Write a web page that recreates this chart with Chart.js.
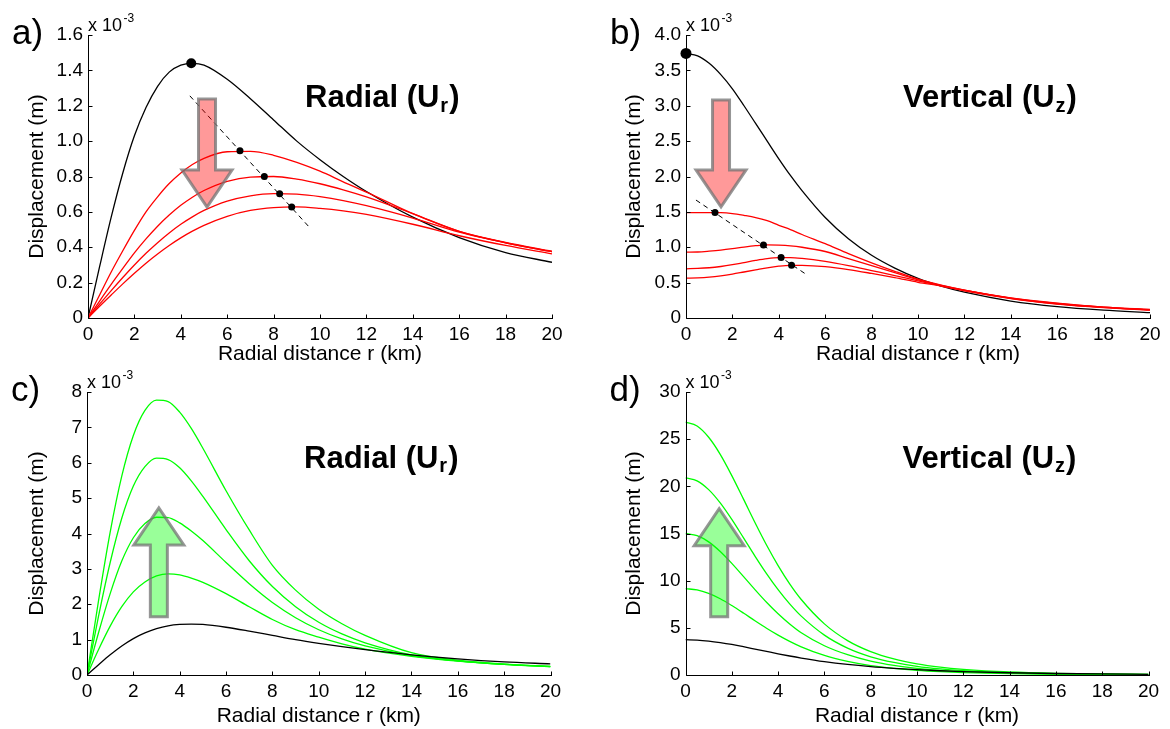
<!DOCTYPE html>
<html>
<head>
<meta charset="utf-8">
<script src="https://cdn.jsdelivr.net/npm/chart.js@4.4.1/dist/chart.umd.min.js"></script>
<style>
  html, body { margin: 0; padding: 0; background: #fff; }
  body { width: 1170px; height: 729px; position: relative; overflow: hidden; }
  canvas { position: absolute; }
</style>
</head>
<body>
<canvas id="panelA" style="left:0;top:0" width="585" height="370"></canvas>
<canvas id="panelB" style="left:590px;top:0" width="580" height="370"></canvas>
<canvas id="panelC" style="left:0;top:360px" width="585" height="370"></canvas>
<canvas id="panelD" style="left:590px;top:360px" width="580" height="370"></canvas>
<script>
// sample positions (km) shared by every curve
const radialKm = [0, 0.5, 1, 1.5, 2, 2.5, 3, 3.5, 4, 4.5, 5, 6, 7, 8, 9, 10, 11, 12, 14, 16, 18, 20];

// displacement values in units of 1e-3 m
// a) radial, reference + decreasing cases
const radialRef = [0, 0.29, 0.57, 0.82, 1.03, 1.19, 1.31, 1.39, 1.43, 1.44, 1.43, 1.35, 1.24, 1.12, 1.0, 0.895, 0.80, 0.715, 0.57, 0.455, 0.37, 0.315];
const radialLow1 = [0, 0.13, 0.26, 0.38, 0.495, 0.60, 0.685, 0.76, 0.82, 0.868, 0.903, 0.94, 0.942, 0.92, 0.88, 0.83, 0.77, 0.712, 0.59, 0.49, 0.425, 0.375];
const radialLow2 = [0, 0.096, 0.19, 0.28, 0.368, 0.447, 0.519, 0.582, 0.637, 0.683, 0.721, 0.773, 0.797, 0.80, 0.785, 0.759, 0.725, 0.685, 0.59, 0.49, 0.428, 0.378];
const radialLow3 = [0, 0.078, 0.155, 0.229, 0.30, 0.366, 0.426, 0.481, 0.53, 0.572, 0.608, 0.661, 0.691, 0.703, 0.70, 0.686, 0.664, 0.635, 0.565, 0.485, 0.425, 0.375];
const radialLow4 = [0, 0.066, 0.13, 0.193, 0.253, 0.31, 0.362, 0.41, 0.453, 0.491, 0.524, 0.575, 0.608, 0.624, 0.628, 0.62, 0.606, 0.586, 0.53, 0.465, 0.41, 0.362];
const radialPeakKm = [6.55, 7.6, 8.26, 8.78];
const radialPeakVal = [0.945, 0.80, 0.703, 0.628];
const radialGuideKm = [4.39, 9.5];
const radialGuideVal = [1.256, 0.519];

// b) vertical, reference + decreasing cases
const verticalRef = [3.74, 3.705, 3.60, 3.44, 3.24, 3.0, 2.75, 2.5, 2.25, 2.015, 1.80, 1.42, 1.12, 0.886, 0.705, 0.56, 0.45, 0.365, 0.24, 0.16, 0.11, 0.075];
const verticalLow1 = [1.49, 1.49, 1.49, 1.488, 1.475, 1.45, 1.42, 1.375, 1.31, 1.25, 1.18, 1.05, 0.91, 0.78, 0.66, 0.55, 0.465, 0.395, 0.285, 0.21, 0.155, 0.12];
const verticalLow2 = [0.93, 0.933, 0.945, 0.96, 0.98, 1.003, 1.022, 1.033, 1.03, 1.02, 1.0, 0.94, 0.84, 0.74, 0.64, 0.54, 0.46, 0.393, 0.282, 0.205, 0.152, 0.118];
const verticalLow3 = [0.695, 0.70, 0.71, 0.728, 0.753, 0.783, 0.813, 0.838, 0.852, 0.853, 0.842, 0.80, 0.74, 0.67, 0.60, 0.525, 0.455, 0.39, 0.278, 0.2, 0.15, 0.115];
const verticalLow4 = [0.563, 0.567, 0.577, 0.595, 0.62, 0.65, 0.68, 0.71, 0.733, 0.745, 0.744, 0.725, 0.685, 0.63, 0.57, 0.505, 0.45, 0.385, 0.275, 0.198, 0.148, 0.112];
const verticalPeakKm = [1.25, 3.34, 4.1, 4.55];
const verticalPeakVal = [1.49, 1.033, 0.854, 0.746];
const verticalGuideKm = [0.43, 5.21];
const verticalGuideVal = [1.667, 0.61];

// c) radial, increasing cases
const radialHigh1 = [0, 0.72, 1.38, 1.93, 2.35, 2.63, 2.80, 2.86, 2.83, 2.74, 2.62, 2.30, 1.93, 1.57, 1.28, 1.07, 0.88, 0.73, 0.53, 0.39, 0.30, 0.235];
const radialHigh2 = [0, 1.20, 2.30, 3.22, 3.88, 4.28, 4.46, 4.45, 4.30, 4.07, 3.80, 3.18, 2.58, 2.05, 1.62, 1.28, 1.02, 0.82, 0.55, 0.40, 0.30, 0.235];
const radialHigh3 = [0, 1.67, 3.18, 4.43, 5.34, 5.89, 6.13, 6.09, 5.86, 5.49, 5.05, 4.11, 3.23, 2.50, 1.93, 1.49, 1.16, 0.91, 0.57, 0.40, 0.30, 0.24];
const radialHigh4 = [0, 2.11, 4.04, 5.62, 6.77, 7.48, 7.77, 7.73, 7.43, 6.97, 6.41, 5.21, 4.10, 3.10, 2.40, 1.86, 1.45, 1.12, 0.63, 0.42, 0.31, 0.245];

// d) vertical, increasing cases
const verticalHigh1 = [9.15, 9.02, 8.65, 8.08, 7.36, 6.57, 5.75, 4.96, 4.23, 3.57, 2.99, 2.07, 1.44, 1.0, 0.71, 0.5, 0.36, 0.26, 0.14, 0.08, 0.05, 0.03];
const verticalHigh2 = [15.0, 14.77, 14.11, 13.09, 11.83, 10.45, 9.05, 7.71, 6.49, 5.41, 4.48, 3.10, 2.15, 1.47, 1.02, 0.71, 0.5, 0.36, 0.19, 0.11, 0.065, 0.04];
const verticalHigh3 = [20.9, 20.58, 19.65, 18.24, 16.49, 14.56, 12.61, 10.75, 9.05, 7.54, 6.24, 4.23, 2.85, 1.93, 1.33, 0.92, 0.65, 0.47, 0.25, 0.14, 0.085, 0.053];
const verticalHigh4 = [26.8, 26.39, 25.2, 23.39, 21.14, 18.67, 16.17, 13.78, 11.6, 9.66, 8.0, 5.42, 3.65, 2.48, 1.70, 1.18, 0.83, 0.60, 0.32, 0.18, 0.11, 0.07];

// ticks
const xTickValues = [0, 2, 4, 6, 8, 10, 12, 14, 16, 18, 20];
const xTickLabels = ['0', '2', '4', '6', '8', '10', '12', '14', '16', '18', '20'];
const yTicksA = [0, 0.2, 0.4, 0.6, 0.8, 1.0, 1.2, 1.4, 1.6];
const yTickLabelsA = ['0', '0.2', '0.4', '0.6', '0.8', '1.0', '1.2', '1.4', '1.6'];
const yTicksB = [0, 0.5, 1.0, 1.5, 2.0, 2.5, 3.0, 3.5, 4.0];
const yTickLabelsB = ['0', '0.5', '1.0', '1.5', '2.0', '2.5', '3.0', '3.5', '4.0'];
const yTicksC = [0, 1, 2, 3, 4, 5, 6, 7, 8];
const yTickLabelsC = ['0', '1', '2', '3', '4', '5', '6', '7', '8'];
const yTicksD = [0, 5, 10, 15, 20, 25, 30];
const yTickLabelsD = ['0', '5', '10', '15', '20', '25', '30'];

const FONT = '"Liberation Sans", Arial, Helvetica, sans-serif';
const RED = '#ff0000', GREEN = '#00ff00', BLACK = '#000000';

Chart.defaults.font.family = FONT;
Chart.defaults.color = '#000';

function arrowPath(ctx, cx, yTail, yTip) {
    const dir = yTip > yTail ? 1 : -1;
    const shaft = 8.5, head = 25, headLen = 37;
    const yBase = yTip - dir * headLen;
    ctx.beginPath();
    ctx.moveTo(cx - shaft, yTail);
    ctx.lineTo(cx + shaft, yTail);
    ctx.lineTo(cx + shaft, yBase);
    ctx.lineTo(cx + head, yBase);
    ctx.lineTo(cx, yTip);
    ctx.lineTo(cx - head, yBase);
    ctx.lineTo(cx - shaft, yBase);
    ctx.closePath();
}

const panelDecor = {
    id: 'panelDecor',
    afterDatasetsDraw(chart, args, o) {
        if (!o.arrow) return;
        const {ctx, scales: {x, y}} = chart;
        const a = o.arrow;
        ctx.save();
        arrowPath(ctx, x.getPixelForValue(a.km), y.getPixelForValue(a.from), y.getPixelForValue(a.to));
        ctx.fillStyle = a.fill;
        ctx.fill();
        ctx.lineWidth = 3;
        ctx.lineJoin = 'miter';
        ctx.strokeStyle = 'rgba(115,115,115,0.75)';
        ctx.stroke();
        ctx.restore();
    },
    afterDraw(chart, args, o) {
        const {ctx, chartArea: area, scales: {x, y}} = chart;
        ctx.save();
        // axes with inward ticks
        ctx.strokeStyle = '#000';
        ctx.lineWidth = 1;
        ctx.beginPath();
        const L = Math.round(area.left) + 0.5, B = Math.round(area.bottom) + 0.5;
        ctx.moveTo(L, Math.round(area.top));
        ctx.lineTo(L, B);
        ctx.lineTo(Math.round(area.right) + 1, B);
        x.ticks.forEach(t => {
            const px = Math.round(x.getPixelForValue(t.value)) + 0.5;
            ctx.moveTo(px, B);
            ctx.lineTo(px, B - 4);
        });
        y.ticks.forEach(t => {
            const py = Math.round(y.getPixelForValue(t.value)) + 0.5;
            ctx.moveTo(L, py);
            ctx.lineTo(L + 4, py);
        });
        ctx.stroke();

        ctx.fillStyle = '#000';
        ctx.textAlign = 'left';
        ctx.textBaseline = 'alphabetic';
        // panel letter
        ctx.font = '35px ' + FONT;
        ctx.fillText(o.letter, area.left - 76, area.top + 8.5);
        // multiplier
        ctx.font = '18px ' + FONT;
        ctx.fillText('x 10', area.left, area.top - 4.3);
        const mw = ctx.measureText('x 10').width;
        ctx.font = '12px ' + FONT;
        ctx.fillText('-3', area.left + mw + 1.5, area.top - 13.3);
        // panel title with subscript
        let tx = area.left + 217;
        const ty = area.top + o.titleDy;
        ctx.font = 'bold 31px ' + FONT;
        ctx.fillText(o.title, tx, ty);
        tx += ctx.measureText(o.title).width + 1;
        ctx.font = 'bold 20px ' + FONT;
        ctx.fillText(o.sub, tx, ty + 4.4);
        tx += ctx.measureText(o.sub).width + 1;
        ctx.font = 'bold 31px ' + FONT;
        ctx.fillText(')', tx, ty);
        ctx.restore();
    }
};

function curve(values, color) {
    return {
        data: radialKm.map((km, i) => ({x: km, y: values[i]})),
        borderColor: color,
        borderWidth: 1.3,
        pointRadius: 0,
        fill: false,
        cubicInterpolationMode: 'monotone'
    };
}

function dots(kms, vals, r) {
    return {
        data: kms.map((km, i) => ({x: km, y: vals[i]})),
        showLine: false,
        pointRadius: r,
        pointBackgroundColor: '#000',
        pointBorderColor: '#000',
        pointBorderWidth: 0,
        clip: false
    };
}

function guide(kms, vals) {
    return {
        data: kms.map((km, i) => ({x: km, y: vals[i]})),
        borderColor: '#000',
        borderWidth: 1,
        borderDash: [5, 4],
        pointRadius: 0
    };
}

function makePanel(canvasId, p) {
    const w = p.canvasW, h = p.canvasH;
    new Chart(document.getElementById(canvasId), {
        type: 'line',
        data: {datasets: p.datasets},
        options: {
            responsive: false,
            animation: false,
            layout: {padding: {left: 0, top: p.area.top, right: w - p.area.right, bottom: 0}},
            plugins: {
                legend: {display: false},
                tooltip: {enabled: false},
                panelDecor: p.decor
            },
            scales: {
                x: {
                    type: 'linear', min: 0, max: 20,
                    afterBuildTicks: s => { s.ticks = xTickValues.map(v => ({value: v})); },
                    afterFit: s => { s.height = h - p.area.bottom; },
                    grid: {display: false, drawTicks: false},
                    border: {display: false},
                    ticks: {font: {size: 19}, color: '#000', padding: 5.5, maxRotation: 0, autoSkip: false,
                            callback: (v, i) => xTickLabels[i]},
                    title: {display: true, text: 'Radial distance r (km)', color: '#000',
                            font: {size: 21}, padding: {top: 0, bottom: p.xTitlePad}}
                },
                y: {
                    type: 'linear', min: 0, max: p.yTicks[p.yTicks.length - 1],
                    afterBuildTicks: s => { s.ticks = p.yTicks.map(v => ({value: v})); },
                    afterFit: s => { s.width = p.area.left; },
                    grid: {display: false, drawTicks: false},
                    border: {display: false},
                    ticks: {font: {size: 19}, color: '#000', padding: 5, autoSkip: false,
                            callback: (v, i) => p.yLabels[i]},
                    title: {display: true, text: 'Displacement (m)', color: '#000',
                            font: {size: 21}, padding: {top: p.yTitlePad, bottom: 0}}
                }
            }
        },
        plugins: [panelDecor]
    });
}

makePanel('panelA', {
    canvasW: 585, canvasH: 370,
    area: {left: 88, top: 35, right: 552, bottom: 318},
    yTicks: yTicksA, yLabels: yTickLabelsA, yTitlePad: 25, xTitlePad: 3.1,
    datasets: [
        dots([4.45], [1.44], 5),
        dots(radialPeakKm, radialPeakVal, 3.5),
        guide(radialGuideKm, radialGuideVal),
        curve(radialLow1, RED), curve(radialLow2, RED), curve(radialLow3, RED), curve(radialLow4, RED),
        curve(radialRef, BLACK)
    ],
    decor: {letter: 'a)', title: 'Radial (U', sub: 'r', titleDy: 72.3,
            arrow: {km: 5.13, from: 1.238, to: 0.627, fill: 'rgba(255,0,0,0.4)'}}
});

makePanel('panelB', {
    canvasW: 580, canvasH: 370,
    area: {left: 96, top: 35, right: 560, bottom: 318},
    yTicks: yTicksB, yLabels: yTickLabelsB, yTitlePad: 31.7, xTitlePad: 3.1,
    datasets: [
        dots([0], [3.74], 5.5),
        dots(verticalPeakKm, verticalPeakVal, 3.5),
        guide(verticalGuideKm, verticalGuideVal),
        curve(verticalLow1, RED), curve(verticalLow2, RED), curve(verticalLow3, RED), curve(verticalLow4, RED),
        curve(verticalRef, BLACK)
    ],
    decor: {letter: 'b)', title: 'Vertical (U', sub: 'z', titleDy: 72.3,
            arrow: {km: 1.51, from: 3.08, to: 1.57, fill: 'rgba(255,0,0,0.4)'}}
});

makePanel('panelC', {
    canvasW: 585, canvasH: 370,
    area: {left: 87, top: 32, right: 550.5, bottom: 315},
    yTicks: yTicksC, yLabels: yTickLabelsC, yTitlePad: 25, xTitlePad: 1.4,
    datasets: [
        curve(radialRef, BLACK),
        curve(radialHigh1, GREEN), curve(radialHigh2, GREEN), curve(radialHigh3, GREEN), curve(radialHigh4, GREEN)
    ],
    decor: {letter: 'c)', title: 'Radial (U', sub: 'r', titleDy: 75.7,
            arrow: {km: 3.1, from: 1.65, to: 4.72, fill: 'rgba(0,255,0,0.4)'}}
});

makePanel('panelD', {
    canvasW: 580, canvasH: 370,
    area: {left: 95.5, top: 32, right: 558.5, bottom: 315},
    yTicks: yTicksD, yLabels: yTickLabelsD, yTitlePad: 31.7, xTitlePad: 1.4,
    datasets: [
        curve(verticalRef, BLACK),
        curve(verticalHigh1, GREEN), curve(verticalHigh2, GREEN), curve(verticalHigh3, GREEN), curve(verticalHigh4, GREEN)
    ],
    decor: {letter: 'd)', title: 'Vertical (U', sub: 'z', titleDy: 75.7,
            arrow: {km: 1.455, from: 6.17, to: 17.63, fill: 'rgba(0,255,0,0.4)'}}
});
</script>
</body>
</html>
